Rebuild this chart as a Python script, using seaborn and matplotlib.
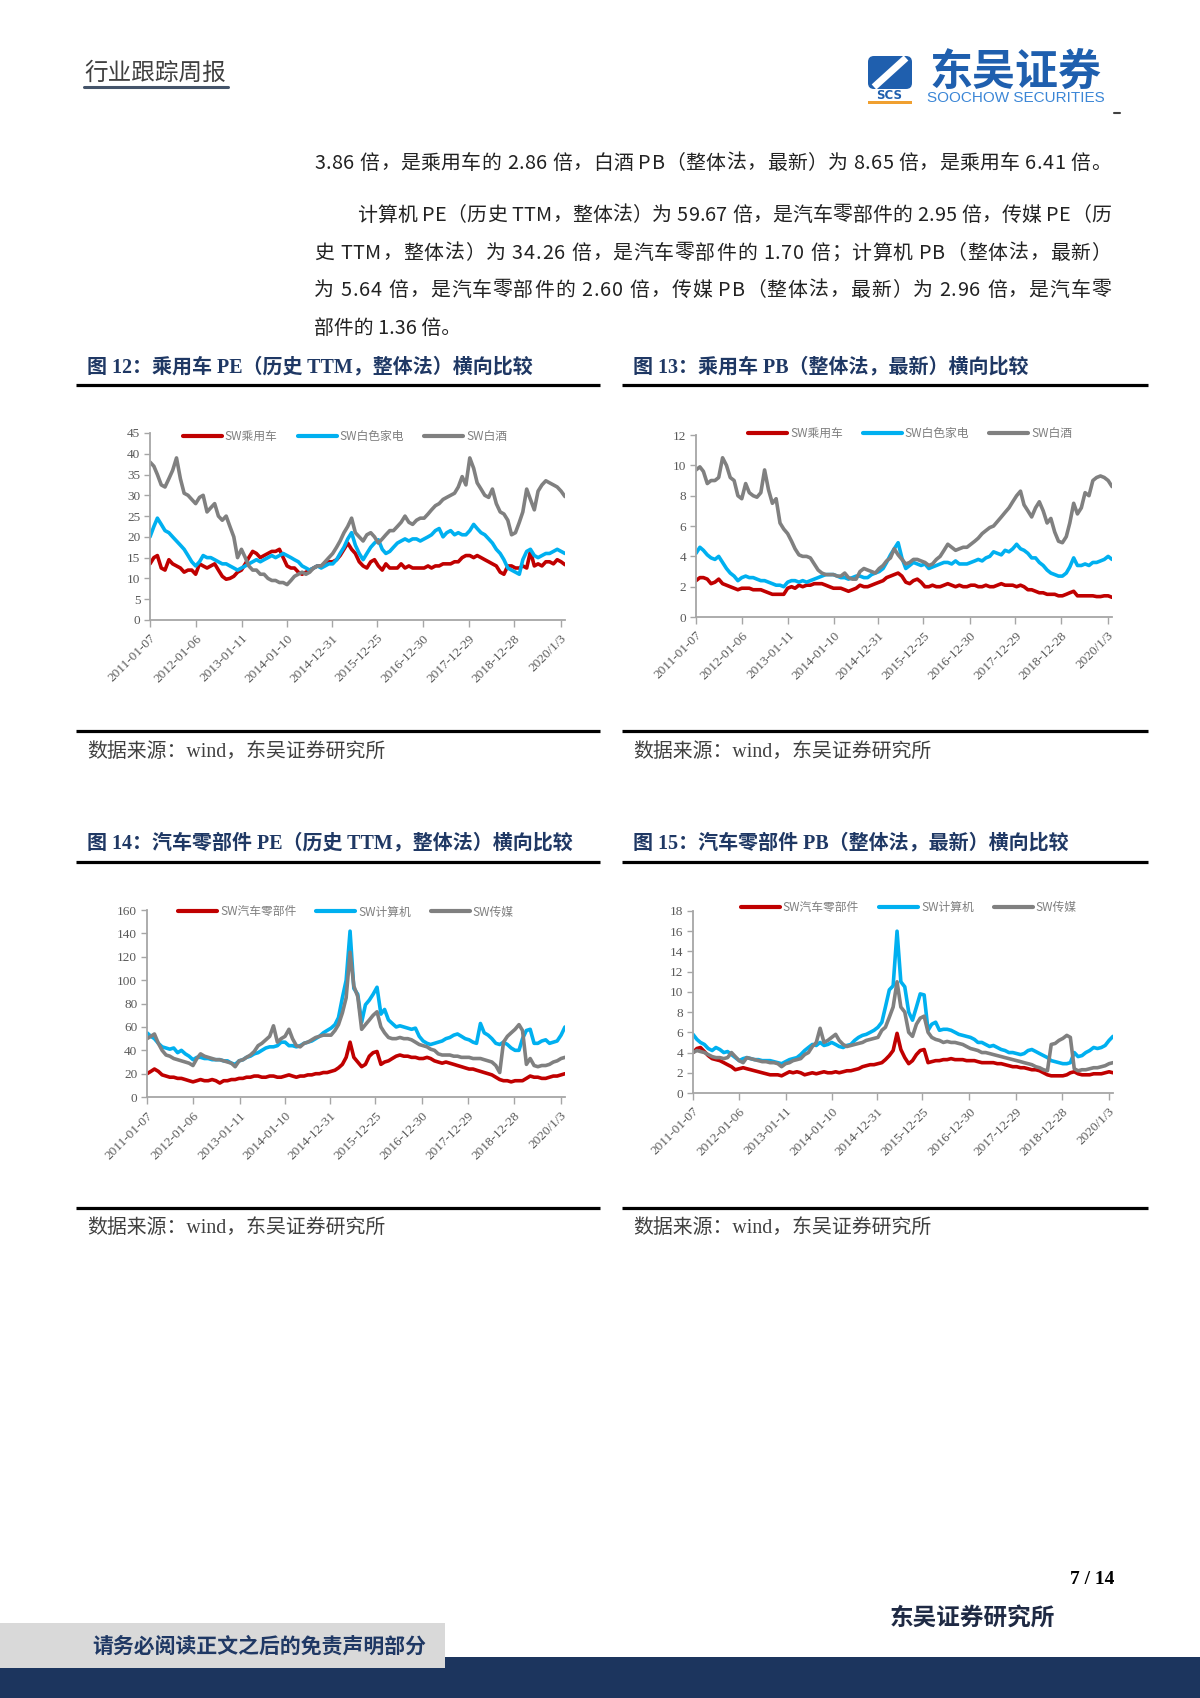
import numpy as np
import pandas as pd
import matplotlib
matplotlib.use('agg')
import matplotlib.pyplot as plt
import matplotlib.patches as mpatches
import seaborn as sns

sns.set_theme(style='white')
plt.rcParams['font.family'] = ['Liberation Serif', 'Noto Sans CJK SC', 'DejaVu Sans']
plt.rcParams['axes.unicode_minus'] = False

# one point per month, 2011-01 .. 2020-02
dates = pd.date_range('2011-01-01', periods=110, freq='MS') + pd.Timedelta(days=6)
tick_dates = pd.to_datetime(['2011-01-07', '2012-01-06', '2013-01-11', '2014-01-10', '2014-12-31',
                             '2015-12-25', '2016-12-30', '2017-12-29', '2018-12-28', '2020-01-03'])
tick_labels = ['2011-01-07', '2012-01-06', '2013-01-11', '2014-01-10', '2014-12-31',
               '2015-12-25', '2016-12-30', '2017-12-29', '2018-12-28', '2020/1/3']

# 图12 PE
labels_12 = ['SW乘用车', 'SW白色家电', 'SW白酒']
pe_car = [13.5, 15, 15.5, 12.5, 12, 14.5, 13.5, 13, 12.5, 11.5, 12, 12,
          11, 13.5, 13, 12.5, 13, 13.5, 12, 10.5, 9.8, 10, 10.5, 11.5,
          12, 13.5, 15, 16.5, 16, 15, 15.5, 16, 16.5, 16.5, 17, 15,
          13, 12.5, 12.5, 11.5, 11, 11.5, 12, 12.5, 13, 13, 13.5, 14,
          14, 14.5, 15.5, 17, 18.5, 17, 16, 14, 13, 12.5, 14, 14.5,
          13, 12, 13.5, 12.5, 12.5, 12.5, 13.5, 12.5, 13, 12.5, 12.5, 12.5,
          12.5, 13, 12.5, 13, 13, 13.5, 13.5, 13.5, 14, 14, 15, 15.5,
          15.5, 15, 15.5, 15, 14.5, 14, 13.5, 13, 11.5, 11, 13, 13,
          12.5, 12.5, 13, 12.5, 16.5, 13, 13.5, 13, 14, 14, 13.5, 14.5,
          14, 13.3]
pe_appliance = [20, 22.5, 24.5, 23, 21.5, 21, 20, 19, 18, 17, 15.5, 14,
                13, 14, 15.5, 15, 15, 14.5, 14, 13.5, 13.5, 13, 12.5, 12,
                12.5, 13, 13.5, 14, 14.5, 14, 14.5, 15, 15.5, 15, 15.5, 16,
                15.5, 15, 14.5, 14, 13, 12.5, 12, 12.5, 13, 12.5, 13, 13.5,
                13.5, 14.5, 16, 17.5, 19.5, 21, 18, 16, 14.5, 16, 17.5, 18.5,
                19.3, 17, 16, 16.5, 17.5, 18.5, 19, 19.5, 19, 19.5, 19.5, 19,
                19.5, 20, 20.5, 21.5, 22, 20, 21, 21.5, 20.5, 21, 20.5, 20.5,
                21.5, 23, 22, 21, 20.5, 19.5, 18.5, 17, 16, 14.5, 12.5, 12,
                11.5, 11, 14.5, 16.5, 17, 15.5, 15, 15.5, 16, 16, 16.5, 17,
                16.5, 16]
pe_liquor = [38, 37, 35, 32.5, 32, 34, 36, 39, 34, 30.5, 30, 29,
             28, 29.5, 30, 26, 27, 28, 25, 24, 25, 22.5, 20, 15,
             17, 15, 13, 12, 12, 11, 11, 10, 9.5, 9.5, 9, 9,
             8.5, 9.5, 10.5, 11, 11.5, 11, 11.5, 12.5, 13, 13, 14, 15,
             16, 17.5, 19, 21, 22.5, 24.5, 21, 20, 19, 20.5, 21, 20,
             18.5, 19.5, 20.5, 21.5, 21.5, 22.5, 23.5, 25, 23.5, 23, 24, 24.5,
             24.5, 25.5, 26.5, 27.5, 28, 29, 29.5, 30, 30.5, 32, 34.5, 32.5,
             39, 36.5, 33, 31.5, 30, 29.5, 31.5, 28, 26, 25.5, 24, 20.5,
             21, 23.5, 26, 31.5, 29, 26.5, 31, 32.5, 33.5, 33, 32.5, 32,
             31, 29.7]

# 图13 PB
pb_car = [2.4, 2.6, 2.6, 2.5, 2.2, 2.3, 2.5, 2.2, 2.1, 2.0, 1.9, 1.8,
          1.9, 1.9, 1.9, 1.8, 1.8, 1.8, 1.7, 1.6, 1.5, 1.5, 1.5, 1.5,
          1.9, 2.0, 1.9, 2.1, 2.0, 2.1, 2.1, 2.2, 2.2, 2.2, 2.1, 2.0,
          1.9, 1.9, 1.9, 1.8, 1.7, 1.8, 1.9, 2.1, 2.0, 2.0, 2.1, 2.2,
          2.3, 2.4, 2.6, 2.7, 2.8, 2.9, 2.7, 2.3, 2.2, 2.4, 2.5, 2.3,
          2.0, 2.0, 2.1, 2.0, 2.0, 2.1, 2.2, 2.1, 2.0, 2.1, 2.0, 2.0,
          2.1, 2.1, 2.0, 2.0, 2.1, 2.0, 2.0, 2.1, 2.2, 2.1, 2.1, 2.1,
          2.0, 2.1, 2.0, 1.8, 1.8, 1.7, 1.6, 1.6, 1.5, 1.5, 1.5, 1.4,
          1.4, 1.5, 1.6, 1.7, 1.4, 1.4, 1.4, 1.4, 1.4, 1.35, 1.35, 1.4,
          1.4, 1.3]
pb_appliance = [4.2, 4.6, 4.4, 4.1, 3.9, 3.8, 4.0, 3.6, 3.2, 2.9, 2.7, 2.4,
                2.6, 2.7, 2.6, 2.6, 2.5, 2.4, 2.4, 2.3, 2.2, 2.1, 2.1, 2.0,
                2.3, 2.4, 2.4, 2.3, 2.4, 2.3, 2.4, 2.5, 2.6, 2.7, 2.8, 2.8,
                2.8, 2.7, 2.6, 2.6, 2.5, 2.6, 2.7, 2.7, 2.6, 2.6, 2.8, 2.9,
                3.0, 3.2, 3.6, 4.1, 4.5, 4.9, 3.9, 3.2, 3.4, 3.6, 3.5, 3.4,
                3.5, 3.2, 3.3, 3.4, 3.5, 3.6, 3.6, 3.5, 3.7, 3.5, 3.5, 3.5,
                3.6, 3.7, 3.8, 3.7, 3.9, 4.0, 4.3, 4.2, 4.1, 4.4, 4.3, 4.5,
                4.8, 4.5, 4.4, 4.2, 3.9, 3.9, 3.6, 3.4, 3.1, 2.9, 2.8, 2.7,
                2.7, 2.9, 3.3, 3.9, 3.4, 3.4, 3.5, 3.4, 3.6, 3.6, 3.7, 3.8,
                4.0, 3.8]
pb_liquor = [9.7, 9.9, 9.6, 8.8, 9.0, 9.0, 9.2, 10.5, 10.0, 9.2, 9.0, 8.0,
             7.8, 8.8, 8.2, 8.0, 7.9, 8.2, 9.7, 8.4, 7.5, 7.8, 6.2, 5.8,
             5.5, 5.0, 4.5, 4.1, 4.0, 4.0, 3.9, 3.5, 3.1, 2.9, 2.8, 2.8,
             2.8, 2.7, 2.7, 2.9, 2.6, 2.5, 2.5, 3.0, 3.2, 3.1, 3.0, 2.9,
             3.2, 3.4, 3.7, 3.9, 4.5, 4.1, 3.8, 3.5, 3.6, 3.8, 3.8, 3.7,
             3.6, 3.4, 3.5, 3.8, 4.0, 4.4, 4.8, 4.6, 4.4, 4.5, 4.6, 4.6,
             4.8, 5.0, 5.2, 5.5, 5.7, 5.9, 6.0, 6.3, 6.6, 6.9, 7.2, 7.6,
             8.0, 8.3, 7.4, 7.0, 6.6, 7.2, 7.6, 7.0, 6.2, 6.5, 5.6, 5.0,
             4.9, 5.3, 6.2, 7.5, 6.8, 7.2, 8.2, 8.0, 9.0, 9.2, 9.3, 9.2,
             9.0, 8.6]

# 图14 PE
labels_14 = ['SW汽车零部件', 'SW计算机', 'SW传媒']
pe_parts = [20, 22, 24, 22, 19, 18, 17, 17, 16, 16, 15, 14,
            13, 14, 15, 14, 14, 15, 14, 12, 14, 14, 15, 15,
            16, 16, 17, 17, 18, 18, 17, 17, 18, 18, 17, 17,
            18, 19, 18, 17, 18, 18, 19, 19, 20, 20, 21, 21,
            22, 23, 25, 28, 34, 47, 34, 30, 26, 28, 35, 38,
            39, 28, 30, 31, 33, 35, 36, 35, 35, 34, 34, 33,
            33, 34, 33, 31, 30, 29, 30, 29, 28, 27, 26, 25,
            24, 24, 23, 22, 21, 20, 19, 17, 15, 14, 14, 13,
            14, 14, 14, 16, 18, 17, 17, 16, 16, 17, 18, 18,
            19, 20]
pe_computer = [55, 52, 50, 46, 43, 42, 41, 42, 38, 40, 37, 35,
               32, 34, 34, 33, 33, 32, 32, 32, 31, 31, 29, 28,
               31, 32, 34, 35, 37, 38, 40, 42, 43, 43, 44, 47,
               47, 44, 44, 43, 44, 46, 47, 48, 50, 52, 55, 57,
               59, 62, 68, 85, 100, 142, 93, 88, 64, 79, 83, 88,
               94, 71, 75, 66, 63, 60, 61, 60, 59, 58, 59, 52,
               48, 46, 45, 46, 47, 48, 50, 51, 53, 54, 52, 50,
               49, 47, 46, 63, 55, 53, 50, 46, 45, 47, 45, 42,
               40, 40, 50, 57, 58, 46, 46, 48, 49, 46, 47, 48,
               53, 60]
pe_media = [50, 52, 54, 46, 40, 36, 35, 33, 32, 31, 30, 29,
            27, 33, 37, 35, 34, 33, 32, 32, 31, 30, 29, 26,
            31, 32, 34, 36, 39, 44, 46, 49, 52, 61, 47, 50,
            52, 58, 50, 44, 43, 46, 47, 49, 51, 52, 53, 53,
            53, 57, 62, 72, 85, 124, 95, 86, 58, 62, 66, 70,
            73, 60, 55, 51, 50, 50, 51, 50, 50, 49, 47, 45,
            44, 43, 41, 40, 37, 36, 36, 36, 35, 35, 34, 34,
            34, 33, 33, 33, 32, 31, 30, 27, 21, 47, 52, 55,
            58, 62, 57, 28, 33, 27, 26, 27, 27, 28, 30, 31,
            33, 34]

# 图15 PB
pb_parts = [4.0, 4.4, 4.5, 4.1, 3.7, 3.4, 3.3, 3.2, 3.0, 2.8, 2.6, 2.3,
            2.4, 2.5, 2.4, 2.3, 2.2, 2.1, 2.0, 1.9, 1.8, 1.8, 1.8, 1.7,
            1.9, 2.1, 2.0, 2.1, 2.0, 1.8, 1.9, 2.0, 1.9, 2.0, 2.1, 2.0,
            2.0, 2.1, 2.0, 2.1, 2.2, 2.2, 2.3, 2.4, 2.6, 2.7, 2.8, 2.8,
            2.9, 3.0, 3.3, 3.7, 4.2, 5.9, 4.3, 3.5, 2.9, 3.2, 3.8, 4.2,
            4.3, 3.0, 3.1, 3.2, 3.2, 3.3, 3.3, 3.4, 3.3, 3.3, 3.3, 3.2,
            3.2, 3.2, 3.1, 3.0, 3.0, 3.0, 3.0, 2.9, 2.9, 2.8, 2.7, 2.6,
            2.6, 2.5, 2.5, 2.4, 2.3, 2.3, 2.2, 2.0, 1.8, 1.7, 1.7, 1.7,
            1.7, 1.8, 2.0, 2.1, 1.9, 1.8, 1.8, 1.8, 1.9, 1.9, 1.9, 2.0,
            2.1, 2.0]
pb_computer = [5.8, 5.3, 5.0, 4.8, 4.4, 4.2, 4.5, 4.3, 4.0, 4.1, 3.8, 3.5,
               3.2, 3.4, 3.5, 3.4, 3.3, 3.3, 3.2, 3.2, 3.2, 3.1, 3.0, 2.9,
               3.1, 3.3, 3.4, 3.5, 3.8, 4.2, 4.5, 4.8, 4.7, 5.0, 4.7, 4.8,
               5.0, 4.8, 4.6, 4.5, 4.7, 4.8, 5.2, 5.5, 5.7, 5.8, 6.0, 6.2,
               6.5, 7.0, 8.5, 10.2, 10.6, 16.0, 11.0, 10.5, 8.0, 7.2, 8.5, 9.8,
               9.7, 6.2, 6.8, 7.0, 6.2, 6.3, 6.3, 6.2, 6.0, 5.8, 5.7, 5.6,
               5.5, 5.3, 5.0, 5.0, 4.8, 4.6, 4.7, 4.5, 4.3, 4.2, 4.0, 4.0,
               3.9, 3.8, 3.9, 4.2, 4.3, 4.1, 3.9, 3.7, 3.5, 3.2, 3.1, 3.0,
               2.9, 2.9, 3.0, 4.0, 3.6, 3.7, 4.0, 4.2, 4.5, 4.4, 4.5, 4.7,
               5.2, 5.6]
pb_media = [4.0, 4.2, 4.1, 4.0, 3.8, 3.6, 3.5, 3.5, 3.4, 3.5, 4.0, 3.6,
            3.2, 3.0, 3.5, 3.4, 3.3, 3.2, 3.1, 3.1, 3.0, 3.0, 2.9, 2.6,
            2.9, 3.0, 3.2, 3.3, 3.4, 3.8, 4.0, 4.6, 5.0, 6.4, 5.0, 5.2,
            5.5, 5.8, 5.2, 4.8, 4.6, 4.7, 4.8, 4.9, 5.0, 5.2, 5.3, 5.4,
            5.5, 6.2, 6.5, 7.5, 8.5, 11.0, 8.5, 8.0, 6.0, 5.6, 6.8, 7.4,
            7.6, 6.0, 5.5, 5.3, 5.2, 5.0, 5.1, 5.0, 5.0, 4.9, 4.8, 4.6,
            4.4, 4.3, 4.2, 4.0, 4.0, 3.9, 3.8, 3.7, 3.6, 3.5, 3.4, 3.3,
            3.2, 3.1, 3.0, 2.9, 2.8, 2.6, 2.5, 2.3, 2.2, 4.8, 4.9, 5.2,
            5.4, 5.7, 5.5, 2.4, 2.2, 2.3, 2.3, 2.4, 2.5, 2.5, 2.6, 2.7,
            2.9, 3.0]

line_colors = ['#c00000', '#00b0f0', '#808080']
navy = '#1f3864'
cjk = ['Noto Sans CJK SC', 'DejaVu Sans']
serif_cjk = ['Liberation Serif', 'Noto Sans CJK SC']

fig = plt.figure(figsize=(12, 16.98), dpi=100)
renderer = fig.canvas.get_renderer()

# page layer in pixel coordinates
page = fig.add_axes([0, 0, 1, 1])
page.set_xlim(0, 1200)
page.set_ylim(1698, 0)
page.axis('off')
page.set_zorder(-1)


def justified(x0, x1, y, s, **kw):
    # spread the characters of one line evenly between x0 and x1 (word-style justify)
    widths = []
    for ch in s:
        t = page.text(0, 0, ch, **kw)
        widths.append(t.get_window_extent(renderer).width)
        t.remove()
    gap = (x1 - x0 - sum(widths)) / (len(s) - 1) if x1 else 0
    x = x0
    for ch, w in zip(s, widths):
        page.text(x, y, ch, va='center', **kw)
        x += w + gap


# header
page.text(84, 73, '行业跟踪周报', family=cjk, fontsize=17, color='#404040', va='center')
page.plot([84, 228], [87, 87], color='#44546a', lw=2.2)

# logo
page.add_patch(mpatches.FancyBboxPatch((868, 56), 44, 33, boxstyle='round,pad=0,rounding_size=6',
                                       fc='#1f5fae', ec='none'))
page.plot([874, 906], [87, 58], color='white', lw=5, solid_capstyle='butt')
page.text(889, 95, 'SCS', family='DejaVu Sans', fontsize=8.5, weight='bold', color='#1f5fae',
          ha='center', va='center')
page.add_patch(mpatches.Rectangle((868, 101), 44, 3, fc='#f0a030', ec='none'))
page.text(1016, 72, '东吴证券', family=cjk, fontsize=31, weight='bold', color='#1f5fae',
          ha='center', va='center')
page.text(1016, 98, 'SOOCHOW SECURITIES', family='Liberation Sans', fontsize=11, color='#3b86d6',
          ha='center', va='center')
page.plot([1114, 1120], [113, 113], color='#404040', lw=1.5)

# body text (last line is not justified)
body_style = dict(family=cjk, fontsize=14.3, color='#222222')
body = [
    (314, 1111, 163, '3.86 倍，是乘用车的 2.86 倍，白酒 PB（整体法，最新）为 8.65 倍，是乘用车 6.41 倍。'),
    (357, 1111, 215, '计算机 PE（历史 TTM，整体法）为 59.67 倍，是汽车零部件的 2.95 倍，传媒 PE（历'),
    (314, 1111, 253, '史 TTM，整体法）为 34.26 倍，是汽车零部件的 1.70 倍；计算机 PB（整体法，最新）'),
    (314, 1111, 290, '为 5.64 倍，是汽车零部件的 2.60 倍，传媒 PB（整体法，最新）为 2.96 倍，是汽车零'),
]
for x0, x1, y, s in body:
    justified(x0, x1, y, s, **body_style)
page.text(314, 328, '部件的 1.36 倍。', va='center', **body_style)

# figure frames: titles, rules and sources
frames = [
    (87, 367, 76, 600, 385, 731, 752, '图 12：乘用车 PE（历史 TTM，整体法）横向比较'),
    (633, 367, 622, 1148, 385, 731, 752, '图 13：乘用车 PB（整体法，最新）横向比较'),
    (87, 843, 76, 600, 862, 1208, 1228, '图 14：汽车零部件 PE（历史 TTM，整体法）横向比较'),
    (633, 843, 622, 1148, 862, 1208, 1228, '图 15：汽车零部件 PB（整体法，最新）横向比较'),
]
for tx, ty, x0, x1, r_top, r_bot, sy, title in frames:
    page.text(tx, ty, title, family=serif_cjk, fontsize=14.4, weight='bold', color=navy, va='center')
    page.plot([x0, x1], [r_top, r_top], color='black', lw=2.3, solid_capstyle='butt')
    page.plot([x0, x1], [r_bot, r_bot], color='black', lw=2.3, solid_capstyle='butt')
    page.text(tx, sy, '数据来源：wind，东吴证券研究所', family=serif_cjk, fontsize=14.3,
              color='#404040', va='center')

# footer
page.text(1114, 1580, '7 / 14', family='Liberation Serif', fontsize=14, weight='bold',
          color='black', ha='right', va='center')
page.text(972, 1618, '东吴证券研究所', family=cjk, fontsize=17, weight='bold', color='#1f2a44',
          ha='center', va='center')
page.add_patch(mpatches.Rectangle((0, 1657), 1200, 41, fc='#1c355e', ec='none'))
page.add_patch(mpatches.Rectangle((0, 1623), 445, 45, fc='#d9d9d9', ec='none'))
page.text(259, 1646, '请务必阅读正文之后的免责声明部分', family=cjk, fontsize=15, weight='bold',
          color=navy, ha='center', va='center')


def draw_chart(rect, labels, series, ymax, ystep, legend_pos):
    ax = fig.add_axes(rect)
    df = pd.DataFrame({
        'date': np.tile(dates.values, len(labels)),
        'value': np.concatenate(series),
        'name': np.repeat(labels, len(dates)),
    })
    sns.lineplot(data=df, x='date', y='value', hue='name', hue_order=labels,
                 palette=line_colors, linewidth=2.6, ax=ax)
    ax.set_facecolor('none')
    ax.set_xlim(dates[0], dates[-1])
    ax.set_ylim(0, ymax)
    ax.set_yticks(np.arange(0, ymax + ystep, ystep))
    ax.set_xticks(tick_dates)
    ax.set_xticklabels(tick_labels, rotation=45, ha='right', rotation_mode='anchor')
    ax.set_xlabel('')
    ax.set_ylabel('')
    sns.despine(ax=ax)
    for side in ['left', 'bottom']:
        ax.spines[side].set_color('#a6a6a6')
        ax.spines[side].set_linewidth(1.3)
    ax.tick_params(axis='x', bottom=True, length=5, width=1, color='#a6a6a6', pad=4,
                   labelsize=9.5, labelcolor='#595959')
    ax.tick_params(axis='y', left=True, length=4, width=1, color='#a6a6a6', pad=3,
                   labelsize=9.5, labelcolor='#595959')
    for lab in ax.get_xticklabels() + ax.get_yticklabels():
        lab.set_family('Liberation Serif')

    handles, names = ax.get_legend_handles_labels()
    leg = ax.legend(handles, names, loc='center', bbox_to_anchor=legend_pos, ncol=3,
                    frameon=False, handlelength=3.3, handletextpad=0.25, columnspacing=1.7,
                    prop={'family': 'Noto Sans CJK SC', 'size': 8.5})
    for h in leg.legend_handles:
        h.set_linewidth(3)
    for t in leg.get_texts():
        t.set_color('#7f7f7f')
    return ax


draw_chart([0.125, 0.6349, 0.3458, 0.1101], labels_12, [pe_car, pe_appliance, pe_liquor],
           45, 5, (0.47, 0.98))
draw_chart([0.58, 0.6366, 0.3467, 0.1072], labels_12, [pb_car, pb_appliance, pb_liquor],
           12, 2, (0.515, 1.01))
draw_chart([0.1225, 0.3539, 0.3483, 0.1101], labels_14, [pe_parts, pe_computer, pe_media],
           160, 20, (0.476, 0.99))
draw_chart([0.5775, 0.3563, 0.35, 0.1072], labels_14, [pb_parts, pb_computer, pb_media],
           18, 2, (0.514, 1.02))

fig.savefig('out.png', dpi=100, facecolor='white')
